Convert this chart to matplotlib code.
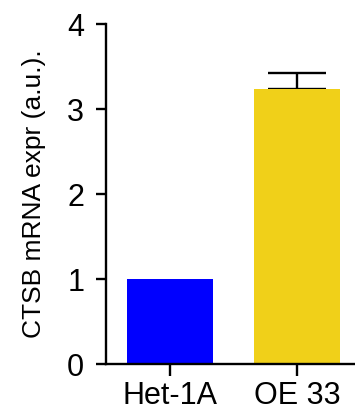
import matplotlib
matplotlib.use("Agg")
import matplotlib.pyplot as plt

groups = ["Het-1A", "OE 33"]
values = [1.0, 3.24]
errors_up = [0.0, 0.18]
colors = ["#0000FF", "#F0D019"]

plt.rcParams['font.family'] = ['Liberation Sans', 'DejaVu Sans']

fig = plt.figure(figsize=(3.55, 4.16), dpi=100)
ax = fig.add_axes([0.298, 0.125, 0.702, 0.817])

x = range(len(groups))
ax.bar(x, values, width=0.67, color=colors, zorder=2)
ax.errorbar([1], [values[1]], yerr=[[0], [errors_up[1]]], fmt='none',
            ecolor='black', elinewidth=1.7, capsize=21, capthick=1.7, zorder=1)

ax.set_xlim(-0.506, 1.457)
ax.set_ylim(0, 4)
ax.set_yticks([0, 1, 2, 3, 4])
ax.set_xticks(list(x))
ax.set_xticklabels(groups)
ax.set_ylabel("CTSB mRNA expr (a.u.).", fontsize=19, labelpad=15)

for s in ['top', 'right']:
    ax.spines[s].set_visible(False)
for s in ['left', 'bottom']:
    ax.spines[s].set_linewidth(1.7)
ax.spines['left'].set_bounds(0, 4)

ax.tick_params(axis='y', length=7.5, width=1.7, labelsize=22, pad=8)
ax.tick_params(axis='x', length=8.5, width=1.7, labelsize=22, pad=4)

fig.savefig("out.png", dpi=100)
